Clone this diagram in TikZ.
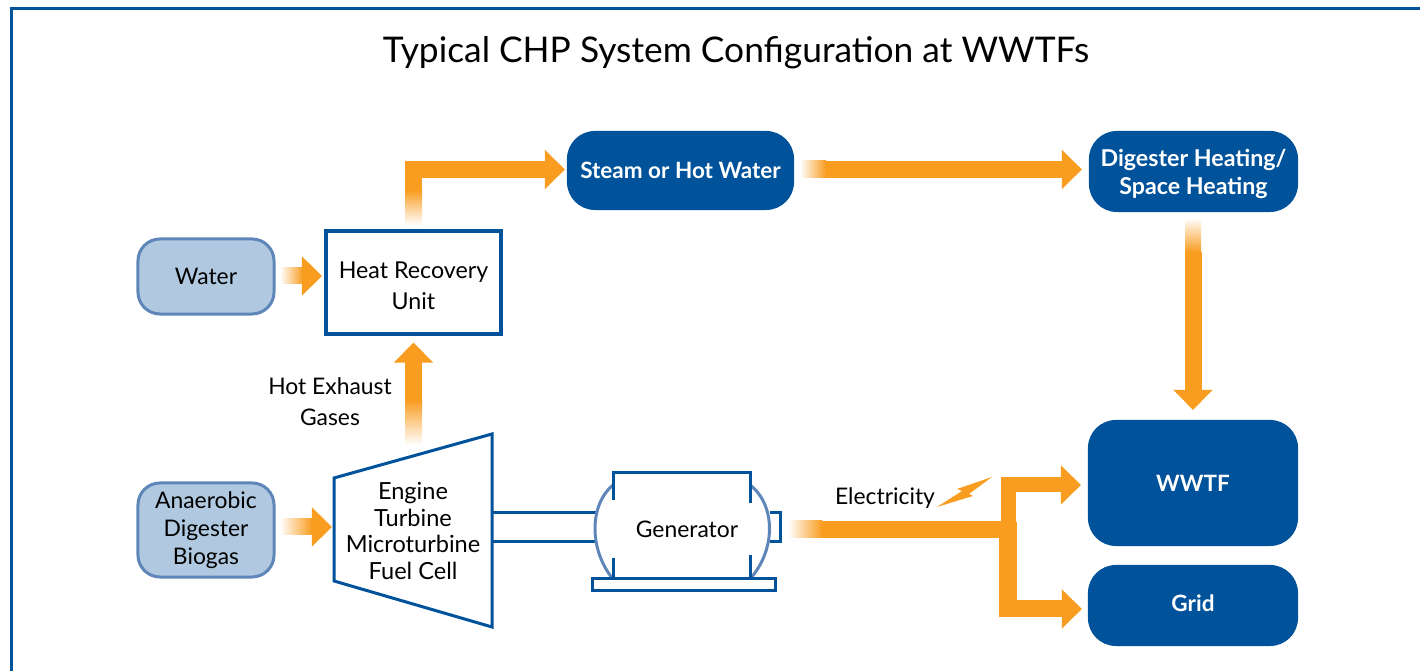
\documentclass[tikz,border=0pt]{standalone}
\usepackage{fontspec}
\setmainfont{Lato}
\usetikzlibrary{arrows.meta,calc}
\definecolor{bluedk}{HTML}{00529B}
\definecolor{bluelt}{HTML}{B0C9E0}
\definecolor{blueln}{HTML}{5F86B8}
\definecolor{orng}{HTML}{F99D20}
\tikzset{
  x=0.01cm,y=-0.01cm,
  darkbox/.style={draw=none,fill=bluedk,text=white,rounded corners=0.28cm,align=center,inner sep=0,outer sep=0,font=\fontsize{6.4}{8}\selectfont\bfseries},
  lightbox/.style={draw=blueln,line width=0.03cm,fill=bluelt,rounded corners=0.22cm,align=center,inner sep=0,outer sep=0,font=\fontsize{6.5}{7.9}\selectfont},
  whitebox/.style={draw=bluedk,line width=0.04cm,fill=white,align=center,inner sep=0,outer sep=0,font=\fontsize{6.6}{8.8}\selectfont},
  lbl/.style={align=center,inner sep=0,font=\fontsize{6.5}{8.8}\selectfont},
  flow/.style={draw=orng,line width=0.17cm,-{Triangle[length=0.2cm,width=0.38cm]}},
  trunk/.style={draw=orng,line width=0.17cm},
  branch/.style={draw=orng,line width=0.15cm,-{Triangle[length=0.2cm,width=0.38cm]}},
  machine/.style={draw=bluedk,line width=0.03cm},
  arcline/.style={draw=blueln,line width=0.03cm},
}
\begin{document}
\begin{tikzpicture}
\useasboundingbox (0,0) rectangle (1420,671);
\draw[bluedk,line width=0.03cm] (11.5,671) -- (11.5,8.5) -- (1420,8.5);
\node[inner sep=0,font=\fontsize{10.05}{12}\selectfont] (title) at (736,53) {Typical CHP System Configuration at WWTFs};

% boxes
\node[darkbox,minimum width=2.27cm,minimum height=0.79cm] (steam) at (680.5,170.5) {Steam or Hot Water};
\node[darkbox,minimum width=2.09cm,minimum height=0.81cm,font=\fontsize{6.6}{8}\selectfont\bfseries] (heat) at (1193.5,171.5) {\rule{0pt}{6.4pt}Digester Heating/\\Space Heating};
\node[darkbox,minimum width=2.10cm,minimum height=1.26cm] (wwtf) at (1193,483) {WWTF};
\node[darkbox,minimum width=2.10cm,minimum height=0.81cm] (grid) at (1193,605.5) {\rule[-1.2pt]{0pt}{1.2pt}Grid};
\node[lightbox,minimum width=1.36cm,minimum height=0.75cm] (water) at (206,276.5) {Water};
\node[lightbox,minimum width=1.36cm,minimum height=0.94cm] (biogas) at (206,530) {Anaerobic\\Digester\\Biogas};
\node[whitebox,minimum width=1.74cm,minimum height=1.02cm] (hru) at (413.5,282.5) {\rule{0pt}{6.4pt}Heat Recovery\\Unit};

% engine
\coordinate (engTL) at (334,478);
\coordinate (engTR) at (492,434);
\coordinate (engBR) at (492,627);
\coordinate (engBL) at (334,581);
\coordinate (engL) at (334,527);
\coordinate (engTop) at (413.5,445);
\draw[machine,fill=white] (engTL) -- (engTR) -- (engBR) -- (engBL) -- cycle;
\node[lbl,font=\fontsize{6.7}{7.6}\selectfont] (engine) at (413,531) {Engine\\Turbine\\Microturbine\\Fuel Cell};

% generator
\coordinate (shaftA) at (492,513);
\coordinate (shaftB) at (492,542);
\coordinate (shaftC) at (597,513);
\coordinate (shaftD) at (597,542);
\draw[machine] (shaftA) -- (shaftC) (shaftB) -- (shaftD);
\draw[arcline] (613,485) .. controls (589,505) and (589,550) .. (613,579);
\draw[arcline] (750,485) .. controls (776,505) and (776,550) .. (750,579);
\draw[machine] (613,500) -- (613,473) -- (750,473) -- (750,503);
\draw[machine] (613,558) -- (613,579) (750,555) -- (750,579);
\draw[machine,fill=white] (592,579) rectangle (775,591);
\draw[machine] (770,513) -- (780,513) -- (780,542) -- (770,542);
\node[lbl] (gen) at (687,529) {Generator};
\coordinate (split) at (1008,529.5);

% labels
\node[lbl] (hot) at (330,402) {Hot Exhaust\\Gases};
\node[lbl] (elec) at (885,498) {Electricity};
\fill[orng] (937,507) -- (962,491) -- (957,489) -- (992,477) -- (969,494) -- (973,496) -- cycle;

% arrows
\shade[left color=white,right color=orng] (280,268) rectangle (303,284);
\draw[flow,shorten <=0.29cm] (water.east |- 0,276) -- (322,276);
\shade[left color=white,right color=orng] (280,519) rectangle (312,535);
\draw[flow,shorten <=0.38cm] (biogas.east |- engL) -- ([xshift=-0.02cm]engL);
\shade[bottom color=white,top color=orng] (405,445) rectangle (422,400);
\draw[flow,shorten <=0.45cm,shorten >=0.09cm] (engTop) -- (hru.south);
\shade[bottom color=white,top color=orng] (405,225) rectangle (422,190);
\draw[trunk,shorten <=0.41cm] (hru.north) -- (hru.north |- 0,161);
\draw[flow,shorten >=0.02cm] (405,169.5) -- (steam.west |- 0,169.5);
\shade[left color=white,right color=orng] (800,161) rectangle (826,178);
\draw[flow,shorten <=0.32cm,shorten >=0.07cm] (steam.east |- 0,169.5) -- (heat.west |- 0,169.5);
\shade[bottom color=orng,top color=white] (1185,218) rectangle (1201,252);
\draw[flow,shorten <=0.40cm,shorten >=0.10cm] (wwtf.north |- heat.south) -- (wwtf.north);
\shade[left color=white,right color=orng] (788,521) rectangle (822,538);
\draw[trunk] (822,529.5) -- (split);
\draw[branch,shorten >=0.07cm] (split |- 0,538) -- (split |- 0,485) -- (wwtf.west |- 0,485);
\draw[flow,shorten >=0.06cm] (split |- 0,522) -- (split |- 0,609) -- (wwtf.west |- 0,609);
\end{tikzpicture}
\end{document}
